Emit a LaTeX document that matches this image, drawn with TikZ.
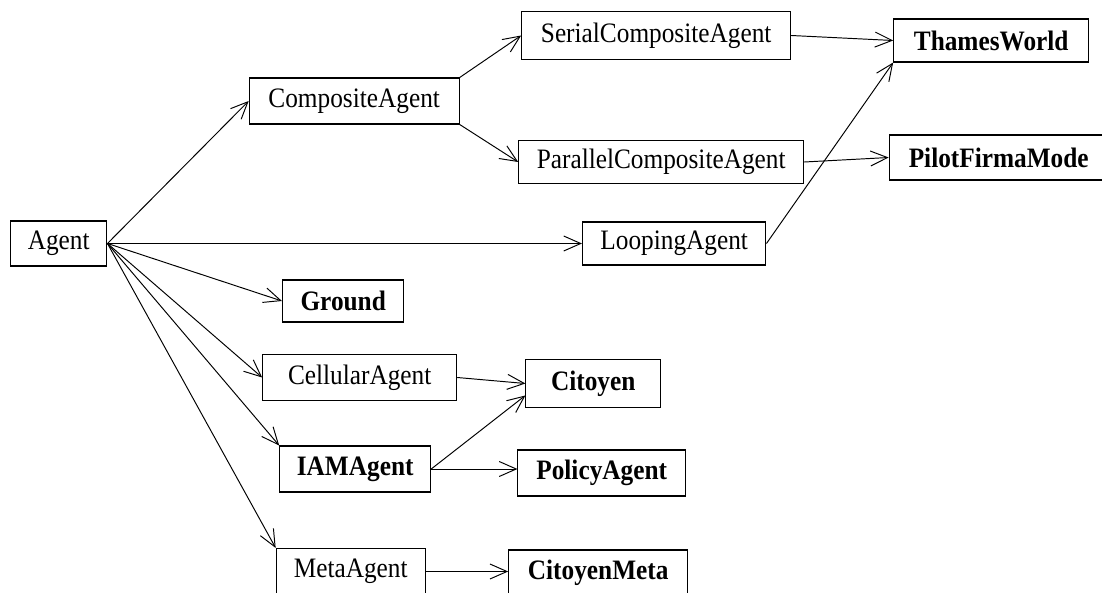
\documentclass[tikz,border=0pt]{standalone}
\usepackage{fontspec}
\setmainfont{Liberation Serif}[FakeStretch=0.9]
\usepackage{tikz}
\usetikzlibrary{arrows.meta,positioning}

\tikzset{
  agent/.style={draw,line width=0.6pt,rectangle,inner sep=2pt,minimum height=0.92cm,
    font=\fontsize{16}{19}\selectfont},
  world/.style={agent,font=\fontsize{16}{19}\selectfont\bfseries}
}

\begin{document}
\begin{tikzpicture}[on grid,line width=0.55pt,>={Straight Barb[length=0.34cm,width=0.3cm]}]
   % page = reference frame, lower boxes run off the bottom edge
   \useasboundingbox (-1.174,-6.99) rectangle ++(22.04,11.86);

   \node[agent,minimum width=1.93cm,minimum height=0.9cm] (Agent) at (0,0) {Agent};
   \node[agent,minimum width=4.2cm] (Composite) [above right=2.85cm and 5.91cm of Agent] {CompositeAgent};
   \node[agent,minimum width=5.38cm,minimum height=0.95cm] (Serial) [above right=1.31cm and 6.04cm of Composite] {SerialCompositeAgent};
   \node[world,minimum width=3.9cm,minimum height=0.86cm] (Thames) [below right=0.1cm and 6.7cm of Serial] {ThamesWorld};
   \node[agent,minimum width=5.7cm,minimum height=0.86cm] (Parallel) [below right=1.22cm and 6.14cm of Composite] {ParallelCompositeAgent};
   \node[world,minimum width=4.38cm,minimum height=0.9cm] (Pilot) [above right=0.09cm and 6.75cm of Parallel] {PilotFirmaMode};
   \node[agent,minimum width=3.67cm,minimum height=0.86cm] (Looping) [right=12.31cm of Agent] {LoopingAgent};
   \node[world,minimum width=2.43cm,minimum height=0.84cm] (Ground) [below right=1.15cm and 5.69cm of Agent] {Ground};
   \node[agent,minimum width=3.88cm] (Cellular) [below right=2.68cm and 6.02cm of Agent] {CellularAgent};
   \node[world,minimum width=2.69cm,minimum height=0.96cm] (Citoyen) [below right=0.12cm and 4.67cm of Cellular] {Citoyen};
   \node[world,minimum width=3.02cm] (IAM) [below right=4.51cm and 5.93cm of Agent] {IAMAgent};
   \node[world,minimum width=3.35cm] (Policy) [below right=0.08cm and 4.93cm of IAM] {PolicyAgent};
   \node[agent,minimum width=2.98cm] (Meta) [below right=6.56cm and 5.84cm of Agent] {MetaAgent};
   \node[world,minimum width=3.58cm] (CitoyenMeta) [below right=0.03cm and 4.95cm of Meta] {CitoyenMeta};

    \path[->]
    (Agent.east) edge (Composite.west)
                 edge (Looping.west)
                 edge (Ground.west)
                 edge (Cellular.180)
                 edge (IAM.north west)
                 edge (Meta.north west)
    (Composite.north east) edge (Serial.west)
    (Composite.south east) edge (Parallel.west)
    (Serial.east) edge (Thames.west)
    (Parallel.east) edge (Pilot.west)
    (Looping.east) edge (Thames.south west)
    (Cellular.east) edge (Citoyen.west)
    (IAM.east) edge (Citoyen.190)
               edge (Policy.west |- IAM.east)
    (Meta.east) edge (CitoyenMeta.west |- Meta.east);
\end{tikzpicture}
\end{document}
